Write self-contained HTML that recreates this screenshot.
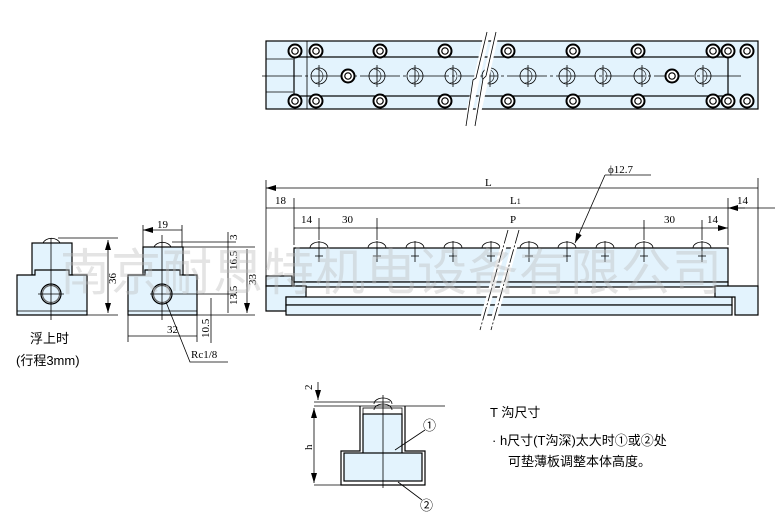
<!DOCTYPE html>
<html><head><meta charset="utf-8"><style>
body{margin:0;background:#fff}
svg{display:block;font-family:"Liberation Serif","Noto Serif CJK SC",serif}
.f{fill:#e3f3fd;stroke:#000;stroke-width:1.2}
.l{stroke:#000;stroke-width:.8;fill:none}
.t{font-size:11px}
.c{font-family:"Liberation Sans","Noto Sans CJK SC",sans-serif;font-size:13px}
</style></head><body>
<svg width="781" height="516" viewBox="0 0 781 516">
<defs>
<marker id="a" viewBox="0 0 10 6" refX="10" refY="3" markerWidth="10" markerHeight="6" orient="auto-start-reverse" markerUnits="userSpaceOnUse"><path d="M0,0 L10,3 L0,6z" fill="#000"/></marker>
<g id="ring"><circle r="6.5" fill="#fff" stroke="#000" stroke-width="2"/><circle r="3.2" fill="#fff" stroke="#000" stroke-width="1.2"/></g>
<g id="hole"><circle r="8" fill="none" stroke="#000" stroke-width=".8"/><path d="M-3,-7 A7,7 0 0 1 -3,7" stroke="#000" fill="none" stroke-width=".6"/><line x1="0" y1="-11" x2="0" y2="11" stroke="#000" stroke-width=".8"/></g>
<g id="ball"><path d="M-9,0 A9,6 0 0 1 9,0" fill="none" stroke="#000" stroke-width=".8"/><line x1="0" y1="-7" x2="0" y2="14" class="l"/><line x1="-4" y1="8" x2="4" y2="8" class="l"/></g>
</defs>
<!-- top view -->
<rect x="266" y="41" width="492" height="68" class="f"/>
<rect x="294" y="57" width="434" height="39" class="f"/>
<line x1="307" y1="41" x2="307" y2="109" class="l"/>
<path d="M266,59 H293 M266,92 H293" class="l"/>
<line x1="262" y1="76" x2="741" y2="76" class="l" stroke-dasharray="40,3,3,3"/>
<g>
<use href="#ring" x="295" y="51"/><use href="#ring" x="316" y="51"/><use href="#ring" x="380" y="51"/><use href="#ring" x="445" y="51"/><use href="#ring" x="508" y="51"/><use href="#ring" x="573" y="51"/><use href="#ring" x="638" y="51"/><use href="#ring" x="713" y="51"/><use href="#ring" x="728" y="51"/><use href="#ring" x="747" y="51"/>
<use href="#ring" x="295" y="101"/><use href="#ring" x="316" y="101"/><use href="#ring" x="380" y="101"/><use href="#ring" x="445" y="101"/><use href="#ring" x="508" y="101"/><use href="#ring" x="573" y="101"/><use href="#ring" x="638" y="101"/><use href="#ring" x="713" y="101"/><use href="#ring" x="728" y="101"/><use href="#ring" x="747" y="101"/>
<use href="#hole" x="319" y="76"/><use href="#ring" x="348" y="76"/><use href="#hole" x="377" y="76"/><use href="#hole" x="415" y="76"/><use href="#hole" x="453" y="76"/><use href="#hole" x="490" y="76"/><use href="#hole" x="528" y="76"/><use href="#hole" x="567" y="76"/><use href="#hole" x="603" y="76"/><use href="#hole" x="642" y="76"/><use href="#ring" x="672" y="76"/><use href="#hole" x="703" y="76"/>
</g>
<path d="M487,33 L466,126 M496,33 L475,126" stroke="#fff" stroke-width="6"/>
<path d="M487,32 L476,78 L473,80 L466,126 M496,32 L486,76 L483,79 L475,126" class="l"/>
<!-- side view -->
<path d="M266,180 V286 M758,178 V286 M294,198 V245 M728,198 V245" class="l"/>
<path d="M266,188 H758 M266,208 H294 M294,208 H728 M294,228 H728" class="l" marker-start="url(#a)" marker-end="url(#a)"/>
<path d="M728,208 H775" class="l"/>
<path d="M745,208 H728" class="l" marker-end="url(#a)"/>
<path d="M319,218 V240 M377,218 V240 M644,220 V240 M702,220 V240" class="l"/>
<text x="485" y="186" class="t">L</text><text x="510" y="204" class="t">L<tspan font-size="8">1</tspan></text>
<text x="275" y="204" class="t">18</text><text x="737" y="204" class="t">14</text>
<text x="301" y="223" class="t">14</text><text x="342" y="223" class="t">30</text><text x="510" y="223" class="t">P</text><text x="664" y="223" class="t">30</text><text x="707" y="223" class="t">14</text>
<text x="608" y="173" class="t">ϕ12.7</text>
<path d="M605,175 H651" class="l"/>
<path d="M605,175 L575,243" class="l" marker-end="url(#a)"/>
<rect x="294" y="248" width="434" height="34" class="f"/>
<rect x="294" y="282" width="434" height="5" class="f"/>
<rect x="266" y="276" width="26" height="10" class="f"/>
<polygon points="266,286 306,286 306,297 286,297 286,311 266,311" class="f"/>
<rect x="286" y="297" width="446" height="8" class="f"/>
<rect x="286" y="305" width="446" height="10" class="f"/>
<polygon points="715,286 758,286 758,315 735,315 735,297 715,297" class="f"/>
<use href="#ball" x="319" y="248"/><use href="#ball" x="377" y="248"/><use href="#ball" x="415" y="248"/><use href="#ball" x="453" y="248"/><use href="#ball" x="491" y="248"/><use href="#ball" x="529" y="248"/><use href="#ball" x="567" y="248"/><use href="#ball" x="605" y="248"/><use href="#ball" x="644" y="248"/><use href="#ball" x="702" y="248"/>
<path d="M508,230 L480,330 M519,230 L491,330" stroke="#fff" stroke-width="6"/>
<path d="M508,230 L480,330 M519,230 L491,330" class="l" stroke-dasharray="14,2,2,2"/>
<!-- end view 1 -->
<rect x="32" y="243" width="40" height="32" class="f"/>
<polygon points="17,275 35,275 35,270 69,270 69,275 87,275 87,315 17,315" class="f"/>
<line x1="17" y1="311" x2="87" y2="311" class="l"/>
<path d="M43,243 A9,7 0 0 1 60,243" class="l"/>
<circle cx="51" cy="294" r="10" fill="#e3f3fd" stroke="#000" stroke-width="1.2"/>
<circle cx="51" cy="294" r="8.5" fill="none" stroke="#666" stroke-width="1.2"/>
<path d="M51,238 V320 M58,238 H118 M87,315 H118 M38,294 H64" class="l"/>
<path d="M108,240 V313" class="l" marker-start="url(#a)" marker-end="url(#a)"/>
<text x="116" y="284" class="t" transform="rotate(-90 116 284)">36</text>
<text x="30" y="343" class="c">浮上时</text>
<text x="16" y="365" class="c">(行程3mm)</text>
<!-- end view 2 -->
<rect x="143" y="247" width="40" height="28" class="f"/>
<polygon points="128,275 145,275 145,270 180,270 180,275 197,275 197,315 128,315" class="f"/>
<line x1="128" y1="311" x2="197" y2="311" class="l"/>
<path d="M154,247 A9,7 0 0 1 171,247" class="l"/>
<circle cx="162" cy="294" r="10" fill="#e3f3fd" stroke="#000" stroke-width="1.2"/>
<circle cx="162" cy="294" r="8.5" fill="none" stroke="#666" stroke-width="1.2"/>
<path d="M162,235 V320 M143,225 V247 M182,225 V247 M172,242 H236 M182,247 H255 M197,315 H255 M150,294 H236 M211,298 V343 M128,315 V342 M197,315 V342" class="l"/>
<path d="M143,230 H182 M128,336 H197 M247,249 V313" class="l" marker-start="url(#a)" marker-end="url(#a)"/>
<path d="M228,232 V313" class="l"/>
<text x="157" y="228" class="t">19</text>
<text x="167" y="333" class="t">32</text>
<g class="t"><text x="237" y="240" transform="rotate(-90 237 240)">3</text><text x="237" y="270" transform="rotate(-90 237 270)">16.5</text><text x="237" y="305" transform="rotate(-90 237 305)">13.5</text><text x="256" y="285" transform="rotate(-90 256 285)">33</text><text x="209" y="338" transform="rotate(-90 209 338)">10.5</text></g>
<path d="M166,302 L190,362 H228" class="l"/>
<text x="191" y="358" class="t">Rc1/8</text>
<!-- T slot -->
<path d="M314,402 H390 M314,406 H445 M314,485 H345" class="l"/>
<path d="M360,406 V451 H341 V485 H425 V451 H405 V406" fill="none" stroke="#000" stroke-width="1.2"/>
<rect x="363" y="408" width="39" height="6" fill="#fff" stroke="#000" stroke-width=".8"/>
<rect x="363" y="414" width="39" height="40" class="f" stroke-width=".8"/>
<rect x="344" y="453" width="78" height="28" class="f" stroke-width=".8"/>
<line x1="383" y1="395" x2="383" y2="488" class="l"/>
<path d="M374,404 A9,6 0 0 1 392,404 M374,410 A9,6 0 0 1 392,410" class="l"/>
<path d="M314,408 V483" class="l" marker-start="url(#a)" marker-end="url(#a)"/>
<path d="M318,382 V400" class="l" marker-end="url(#a)"/>
<text x="312" y="450" class="t" transform="rotate(-90 312 450)">h</text>
<text x="312" y="390" class="t" transform="rotate(-90 312 390)">2</text>
<path d="M425,430 L395,450 M398,482 L422,500" class="l"/>
<text x="423" y="430" class="c" font-size="14">①</text>
<text x="420" y="510" class="c" font-size="14">②</text>
<text x="490" y="417" class="c">T 沟尺寸</text>
<text x="492" y="445" class="c">· h尺寸(T沟深)太大时①或②处</text>
<text x="508" y="466" class="c">可垫薄板调整本体高度。</text>
<!-- watermark -->
<text x="60" y="290" font-family="'Noto Sans CJK SC',sans-serif" font-size="50" fill="#bbb" fill-opacity=".4" letter-spacing="1">南京耐思特机电设备有限公司</text>
</svg>
</body></html>
